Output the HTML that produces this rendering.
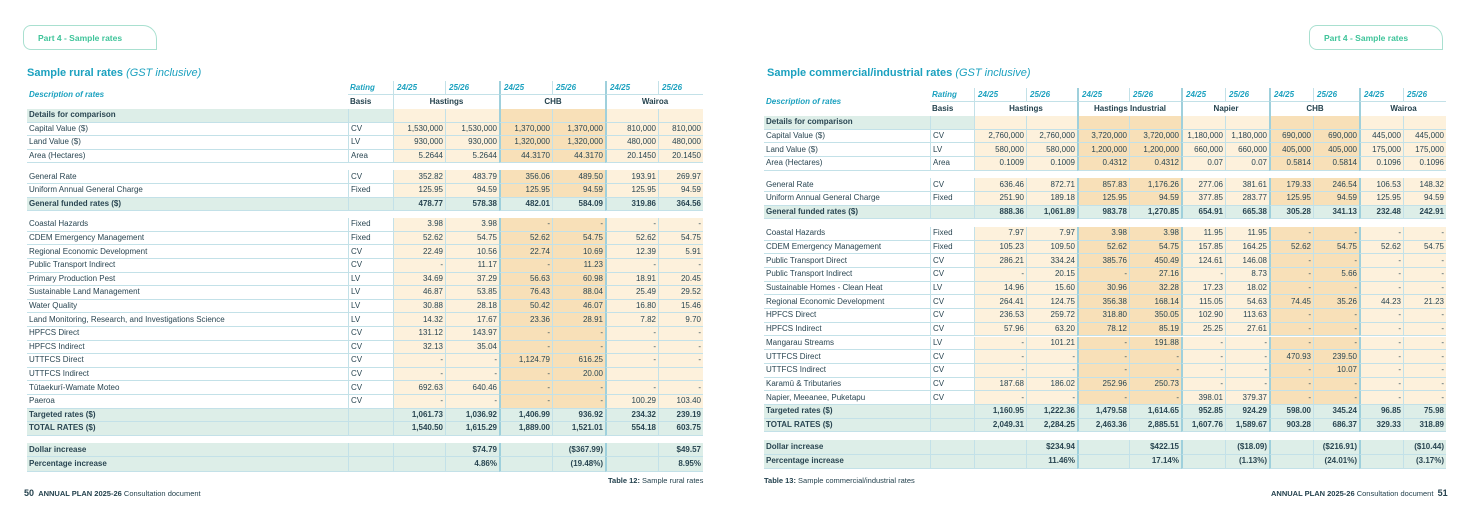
<!DOCTYPE html>
<html><head><meta charset="utf-8">
<style>
*{box-sizing:border-box;margin:0;padding:0}
body{width:1469px;height:513px;background:#fff;position:relative;overflow:hidden;font-family:"Liberation Sans",sans-serif;color:#2a4652}
.a{position:absolute}
.tab{position:absolute;border:1px solid #a9e0d0;border-radius:8px 14px 0 8px;color:#3fc49a;font-size:8.5px;font-weight:bold;padding:7px 0 0 14px}
.title{position:absolute;color:#1ba1bf;font-size:11px;font-weight:bold}
.title i{font-weight:normal}
.c{position:absolute;font-size:8px;line-height:1;display:flex;align-items:center;white-space:nowrap;overflow:hidden}
.foot{position:absolute;font-size:7.5px;color:#24424e}
</style></head><body>
<div class="tab" style="left:23px;top:25px;width:134px;height:25px">Part 4 - Sample rates</div>
<div class="tab" style="left:1309px;top:25px;width:134px;height:25px">Part 4 - Sample rates</div>
<div class="title" style="left:27px;top:67px">Sample rural rates <i>(GST inclusive)</i></div>
<div class="title" style="left:767px;top:67px">Sample commercial/industrial rates <i>(GST inclusive)</i></div>
<div id="L"></div>
<div id="R"></div>
<div class="foot" style="left:608px;top:476px"><b>Table 12:</b> Sample rural rates</div>
<div class="foot" style="left:764px;top:476px"><b>Table 13:</b> Sample commercial/industrial rates</div>
<div class="foot" style="left:24px;top:488px"><b style="font-size:9px">50</b>&nbsp; <b>ANNUAL PLAN 2025-26</b> Consultation document</div>
<div class="foot" style="left:1271px;top:488px"><b>ANNUAL PLAN 2025-26</b> Consultation document&nbsp; <b style="font-size:9px">51</b></div>
<script>
const leftGroups=["Hastings","CHB","Wairoa"];
const leftRows=[
["s","Details for comparison","",[]],
["n","Capital Value ($)","CV",["1,530,000","1,530,000","1,370,000","1,370,000","810,000","810,000"]],
["n","Land Value ($)","LV",["930,000","930,000","1,320,000","1,320,000","480,000","480,000"]],
["n","Area (Hectares)","Area",["5.2644","5.2644","44.3170","44.3170","20.1450","20.1450"]],
["g"],
["n","General Rate","CV",["352.82","483.79","356.06","489.50","193.91","269.97"]],
["n","Uniform Annual General Charge","Fixed",["125.95","94.59","125.95","94.59","125.95","94.59"]],
["b","General funded rates ($)","",["478.77","578.38","482.01","584.09","319.86","364.56"]],
["g"],
["n","Coastal Hazards","Fixed",["3.98","3.98","-","-","-","-"]],
["n","CDEM Emergency Management","Fixed",["52.62","54.75","52.62","54.75","52.62","54.75"]],
["n","Regional Economic Development","CV",["22.49","10.56","22.74","10.69","12.39","5.91"]],
["n","Public Transport Indirect","CV",["-","11.17","-","11.23","-","-"]],
["n","Primary Production Pest","LV",["34.69","37.29","56.63","60.98","18.91","20.45"]],
["n","Sustainable Land Management","LV",["46.87","53.85","76.43","88.04","25.49","29.52"]],
["n","Water Quality","LV",["30.88","28.18","50.42","46.07","16.80","15.46"]],
["n","Land Monitoring, Research, and Investigations Science","LV",["14.32","17.67","23.36","28.91","7.82","9.70"]],
["n","HPFCS Direct","CV",["131.12","143.97","-","-","-","-"]],
["n","HPFCS Indirect","CV",["32.13","35.04","-","-","-","-"]],
["n","UTTFCS Direct","CV",["-","-","1,124.79","616.25","-","-"]],
["n","UTTFCS Indirect","CV",["-","-","-","20.00","",""]],
["n","Tūtaekurī-Wamate Moteo","CV",["692.63","640.46","-","-","-","-"]],
["n","Paeroa","CV",["-","-","-","-","100.29","103.40"]],
["b","Targeted rates ($)","",["1,061.73","1,036.92","1,406.99","936.92","234.32","239.19"]],
["b","TOTAL RATES ($)","",["1,540.50","1,615.29","1,889.00","1,521.01","554.18","603.75"]],
["g"],
["i","Dollar increase","",["","$74.79","","($367.99)","","$49.57"]],
["i","Percentage increase","",["","4.86%","","(19.48%)","","8.95%"]]
];
const rightGroups=["Hastings","Hastings Industrial","Napier","CHB","Wairoa"];
const rightRows=[
["s","Details for comparison","",[]],
["n","Capital Value ($)","CV",["2,760,000","2,760,000","3,720,000","3,720,000","1,180,000","1,180,000","690,000","690,000","445,000","445,000"]],
["n","Land Value ($)","LV",["580,000","580,000","1,200,000","1,200,000","660,000","660,000","405,000","405,000","175,000","175,000"]],
["n","Area (Hectares)","Area",["0.1009","0.1009","0.4312","0.4312","0.07","0.07","0.5814","0.5814","0.1096","0.1096"]],
["g"],
["n","General Rate","CV",["636.46","872.71","857.83","1,176.26","277.06","381.61","179.33","246.54","106.53","148.32"]],
["n","Uniform Annual General Charge","Fixed",["251.90","189.18","125.95","94.59","377.85","283.77","125.95","94.59","125.95","94.59"]],
["b","General funded rates ($)","",["888.36","1,061.89","983.78","1,270.85","654.91","665.38","305.28","341.13","232.48","242.91"]],
["g"],
["n","Coastal Hazards","Fixed",["7.97","7.97","3.98","3.98","11.95","11.95","-","-","-","-"]],
["n","CDEM Emergency Management","Fixed",["105.23","109.50","52.62","54.75","157.85","164.25","52.62","54.75","52.62","54.75"]],
["n","Public Transport Direct","CV",["286.21","334.24","385.76","450.49","124.61","146.08","-","-","-","-"]],
["n","Public Transport Indirect","CV",["-","20.15","-","27.16","-","8.73","-","5.66","-","-"]],
["n","Sustainable Homes - Clean Heat","LV",["14.96","15.60","30.96","32.28","17.23","18.02","-","-","-","-"]],
["n","Regional Economic Development","CV",["264.41","124.75","356.38","168.14","115.05","54.63","74.45","35.26","44.23","21.23"]],
["n","HPFCS Direct","CV",["236.53","259.72","318.80","350.05","102.90","113.63","-","-","-","-"]],
["n","HPFCS  Indirect","CV",["57.96","63.20","78.12","85.19","25.25","27.61","-","-","-","-"]],
["n","Mangarau Streams","LV",["-","101.21","-","191.88","-","-","-","-","-","-"]],
["n","UTTFCS Direct","CV",["-","-","-","-","-","-","470.93","239.50","-","-"]],
["n","UTTFCS Indirect","CV",["-","-","-","-","-","-","-","10.07","-","-"]],
["n","Karamū & Tributaries","CV",["187.68","186.02","252.96","250.73","-","-","-","-","-","-"]],
["n","Napier, Meeanee, Puketapu","CV",["-","-","-","-","398.01","379.37","-","-","-","-"]],
["b","Targeted rates ($)","",["1,160.95","1,222.36","1,479.58","1,614.65","952.85","924.29","598.00","345.24","96.85","75.98"]],
["b","TOTAL RATES ($)","",["2,049.31","2,284.25","2,463.36","2,885.51","1,607.76","1,589.67","903.28","686.37","329.33","318.89"]],
["g"],
["i","Dollar increase","",["","$234.94","","$422.15","","($18.09)","","($216.91)","","($10.44)"]],
["i","Percentage increase","",["","11.46%","","17.14%","","(1.13%)","","(24.01%)","","(3.17%)"]]
];
const CREAM="#fdf1dc",DARK="#f8e0b8",GREEN="#ddeee8",LINE="#c3e1e8",TEAL="#1ba1bf";
function cell(root,x,y,w,h,txt,o){
  const d=document.createElement('div');d.className='c';
  d.style.cssText+=`left:${x}px;top:${y}px;width:${w}px;height:${h}px;`+(o||'');
  d.textContent=txt;root.appendChild(d);return d;
}
function build(id,groups,rows,edges,top,gapH,rh,darkGroups){
  const root=document.getElementById(id);
  const x0=edges[0],xEnd=edges[edges.length-1];
  const hh=14;
  let c;
  c=cell(root,x0+2,top,edges[1]-x0,hh*2,"Description of rates",`color:${TEAL};font-weight:bold;font-style:italic;`);
  
  c=cell(root,edges[1],top,edges[2]-edges[1],hh,"Rating",`padding-left:2px;color:${TEAL};font-weight:bold;font-style:italic;border-bottom:1px solid ${LINE};`);
  
  c=cell(root,edges[1],top+hh,edges[2]-edges[1],hh,"Basis",`padding-left:2px;font-weight:bold;color:#24424e;`);
  
  for(let k=0;k<groups.length;k++){
    const a=edges[2+2*k],m=edges[3+2*k],b=edges[4+2*k];
    c=cell(root,a,top,m-a,hh,"24/25",`padding-left:3px;color:${TEAL};font-weight:bold;font-style:italic;border-bottom:1px solid ${LINE};border-left:${k?2:1}px solid ${k?'#9fd0dc':LINE};`);
    
    c=cell(root,m,top,b-m,hh,"25/26",`padding-left:3px;color:${TEAL};font-weight:bold;font-style:italic;border-bottom:1px solid ${LINE};border-left:1px solid ${LINE};`);
    
    c=cell(root,a,top+hh,b-a,hh,groups[k],`justify-content:center;font-weight:bold;color:#24424e;border-left:${k?2:1}px solid ${k?'#9fd0dc':LINE};`);
    
  }
  const hl=document.createElement('div');hl.className='a';
  hl.style.cssText=`left:${x0}px;top:${top+hh*2}px;width:${xEnd-x0}px;height:1px;background:#9fd0dc`;
  root.appendChild(hl);
  let y=top+hh*2;
  for(const r of rows){
    if(r[0]==='g'){y+=gapH;continue;}
    const t=r[0],h=(t==='i')?rh+1:rh;
    const bold=(t!=='n');
    const rowBg=(t==='n')?'#fff':GREEN;
    c=cell(root,x0,y,edges[1]-x0,h,r[1],`padding-left:2px;background:${rowBg};${bold?'font-weight:bold;':''}border-bottom:1px solid ${LINE};`);
    
    c=cell(root,edges[1],y,edges[2]-edges[1],h,r[2],`padding-left:2px;background:${rowBg};border-bottom:1px solid ${LINE};border-left:1px solid ${LINE};`);
    
    for(let j=0;j<edges.length-3;j++){
      const g=Math.floor(j/2);
      let bg=(t==='n'||t==='s')?(darkGroups.includes(g)?DARK:CREAM):GREEN;
      const lw=(j%2===0&&g>0)?2:1,lc=(j%2===0&&g>0)?'#9fd0dc':LINE;
      c=cell(root,edges[2+j],y,edges[3+j]-edges[2+j],h,(r[3][j]===undefined?"":r[3][j]),`justify-content:flex-end;padding-right:2px;background:${bg};${bold?'font-weight:bold;':''}border-bottom:1px solid ${LINE};border-left:${lw}px solid ${lc};`);
      
    }
    y+=h;
  }
}
build('L',leftGroups,leftRows,[27,348,393,445,499,552,605,658,703],81,7,13.6,[1]);
build('R',rightGroups,rightRows,[764,930,974,1026,1077,1129,1181,1225,1269,1313,1359,1403,1446],88,7.5,13.7,[1,3]);
</script>
</body></html>
